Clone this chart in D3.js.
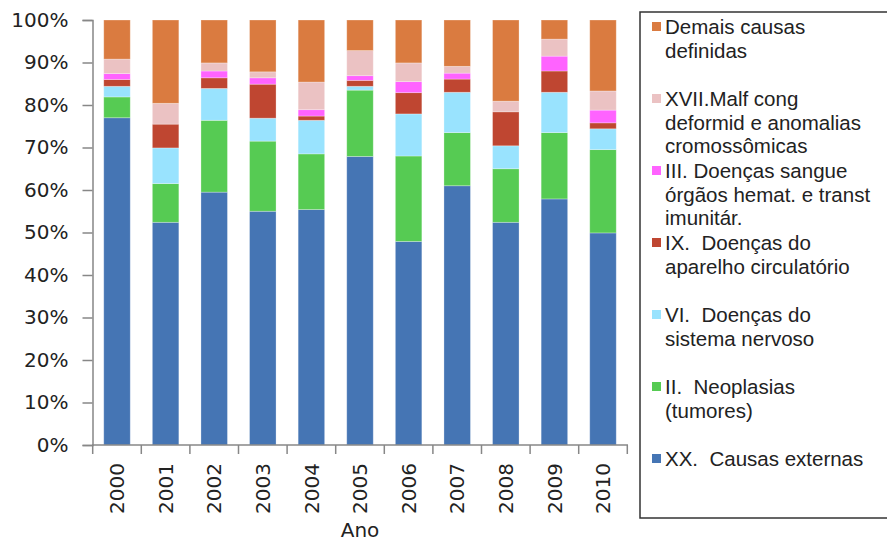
<!DOCTYPE html>
<html>
<head>
<meta charset="utf-8">
<script src="https://cdn.jsdelivr.net/npm/d3@7"></script>
<style>
  body { margin: 0; background: #fff; }
  text { white-space: pre; }
</style>
</head>
<body>
<div id="chart"></div>
<script>
// anos (categorias)
var anos = ["2000","2001","2002","2003","2004","2005","2006","2007","2008","2009","2010"];

// percentuais, de baixo para cima
var causasExternas = [77.0, 52.4, 59.5, 55.0, 55.4, 67.9, 47.9, 61.0, 52.4, 57.9, 49.9];
var neoplasias     = [ 4.9,  9.1, 16.9, 16.5, 13.1, 15.6, 20.1, 12.5, 12.6, 15.6, 19.6];
var sistNervoso    = [ 2.5,  8.4,  7.5,  5.4,  7.9,  0.9,  9.9,  9.5,  5.4,  9.5,  4.9];
var apCirculatorio = [ 1.6,  5.6,  2.5,  8.0,  1.0,  1.4,  5.0,  3.1,  8.0,  5.0,  1.4];
var doencasSangue  = [ 1.4,  0.0,  1.6,  1.5,  1.5,  1.1,  2.6,  1.4,  0.0,  3.5,  3.0];
var malfCong       = [ 3.4,  4.9,  1.9,  1.4,  6.5,  5.9,  4.4,  1.6,  2.5,  4.0,  4.5];
var demaisCausas   = [ 9.2, 19.6, 10.1, 12.2, 14.6,  7.2, 10.1, 10.9, 19.1,  4.5, 16.7];

var yTicks = [0, 0.1, 0.2, 0.3, 0.4, 0.5, 0.6, 0.7, 0.8, 0.9, 1.0];

var series = [
  {key: "xx",   values: causasExternas, color: "#4575B4", label: ["XX.  Causas externas"]},
  {key: "ii",   values: neoplasias,     color: "#56CB53", label: ["II.  Neoplasias", "(tumores)"]},
  {key: "vi",   values: sistNervoso,    color: "#99E3FE", label: ["VI.  Doenças do", "sistema nervoso"]},
  {key: "ix",   values: apCirculatorio, color: "#BF4631", label: ["IX.  Doenças do", "aparelho circulatório"]},
  {key: "iii",  values: doencasSangue,  color: "#FF63FF", label: ["III. Doenças sangue", "órgãos hemat. e transt", "imunitár."]},
  {key: "xvii", values: malfCong,       color: "#EBC2C3", label: ["XVII.Malf cong", "deformid e anomalias", "cromossômicas"]},
  {key: "dem",  values: demaisCausas,   color: "#DA7B40", label: ["Demais causas", "definidas"]}
];

var width = 887, height = 543;
var axisFont = "'DejaVu Sans', Verdana, sans-serif";
var legFont = "'Liberation Sans', Arial, sans-serif";

var svg = d3.select("#chart").append("svg")
  .attr("width", width)
  .attr("height", height);

var rows = anos.map(function (a, i) {
  var r = {ano: a};
  series.forEach(function (s) { r[s.key] = s.values[i]; });
  return r;
});

var stack = d3.stack()
  .keys(series.map(function (s) { return s.key; }))
  .offset(d3.stackOffsetExpand);
var stacked = stack(rows);

var x = d3.scaleBand()
  .domain(anos)
  .range([92.7, 627.3])
  .paddingInner(0.455)
  .paddingOuter(0.2275);

var y = d3.scaleLinear()
  .domain([0, 1])
  .range([445, 20]);

var color = d3.scaleOrdinal()
  .domain(series.map(function (s) { return s.key; }))
  .range(series.map(function (s) { return s.color; }));

// barras
var g = svg.append("g");
g.selectAll("g.serie")
  .data(stacked)
  .enter().append("g")
  .attr("class", "serie")
  .attr("fill", function (d) { return color(d.key); })
  .selectAll("rect")
  .data(function (d) { return d; })
  .enter().append("rect")
  .attr("x", function (d) { return x(d.data.ano); })
  .attr("width", x.bandwidth())
  .attr("y", function (d) { return y(d[1]); })
  .attr("height", function (d) { return Math.max(0, y(d[0]) - y(d[1])); })
  .attr("stroke", "rgba(255,255,255,0.35)")
  .attr("stroke-width", 0.8);

// eixo y
var yAxis = d3.axisLeft(y)
  .tickValues(yTicks)
  .tickFormat(d3.format(".0%"))
  .tickSize(10)
  .tickPadding(14);
var gy = svg.append("g")
  .attr("transform", "translate(92.5,0)")
  .call(yAxis);
gy.select(".domain").attr("stroke", "#878787").attr("stroke-width", 1.5);
gy.selectAll(".tick line").attr("stroke", "#878787").attr("stroke-width", 1.5);
gy.selectAll(".tick text")
  .attr("fill", "#222")
  .style("font-family", axisFont)
  .style("font-size", "20px");

// eixo x
var gx = svg.append("g");
gx.append("line")
  .attr("x1", 92).attr("x2", 628)
  .attr("y1", y(0)).attr("y2", y(0))
  .attr("stroke", "#878787").attr("stroke-width", 1.5);
var edges = anos.map(function (a) { return x(a) - x.step() * x.paddingInner() / 2; });
edges.push(x(anos[anos.length - 1]) + x.bandwidth() + x.step() * x.paddingInner() / 2);
gx.selectAll("line.tk")
  .data(edges)
  .enter().append("line")
  .attr("class", "tk")
  .attr("x1", function (d) { return d; })
  .attr("x2", function (d) { return d; })
  .attr("y1", y(0)).attr("y2", y(0) + 9)
  .attr("stroke", "#878787").attr("stroke-width", 1.5);
gx.selectAll("text.ano")
  .data(anos)
  .enter().append("text")
  .attr("class", "ano")
  .attr("transform", function (d) {
    return "translate(" + (x(d) + x.bandwidth() / 2) + "," + 463 + ") rotate(-90)";
  })
  .attr("dy", "0.36em")
  .attr("text-anchor", "end")
  .attr("fill", "#222")
  .style("font-family", axisFont)
  .style("font-size", "20px")
  .text(function (d) { return d; });

svg.append("text")
  .attr("x", (92.7 + 627.3) / 2)
  .attr("y", 537)
  .attr("text-anchor", "middle")
  .attr("fill", "#222")
  .style("font-family", axisFont)
  .style("font-size", "20px")
  .text("Ano");

// legenda
var leg = svg.append("g");
leg.append("rect")
  .attr("x", 640).attr("y", 12)
  .attr("width", 270).attr("height", 506)
  .attr("fill", "#fff")
  .attr("stroke", "#333")
  .attr("stroke-width", 1.5);

var legOrder = series.slice().reverse();
var item = leg.selectAll("g.item")
  .data(legOrder)
  .enter().append("g")
  .attr("class", "item")
  .attr("transform", function (d, i) { return "translate(0," + (27 + i * 72) + ")"; });
item.append("rect")
  .attr("x", 652).attr("y", -5)
  .attr("width", 9).attr("height", 9)
  .attr("fill", function (d) { return d.color; });
item.each(function (d) {
  var t = d3.select(this).append("text")
    .attr("fill", "#222")
    .style("font-family", legFont)
    .style("font-size", "20.5px");
  d.label.forEach(function (line, j) {
    t.append("tspan")
      .attr("x", 665)
      .attr("y", j * 23.5)
      .attr("dy", "0.35em")
      .text(line);
  });
});
</script>
</body>
</html>
